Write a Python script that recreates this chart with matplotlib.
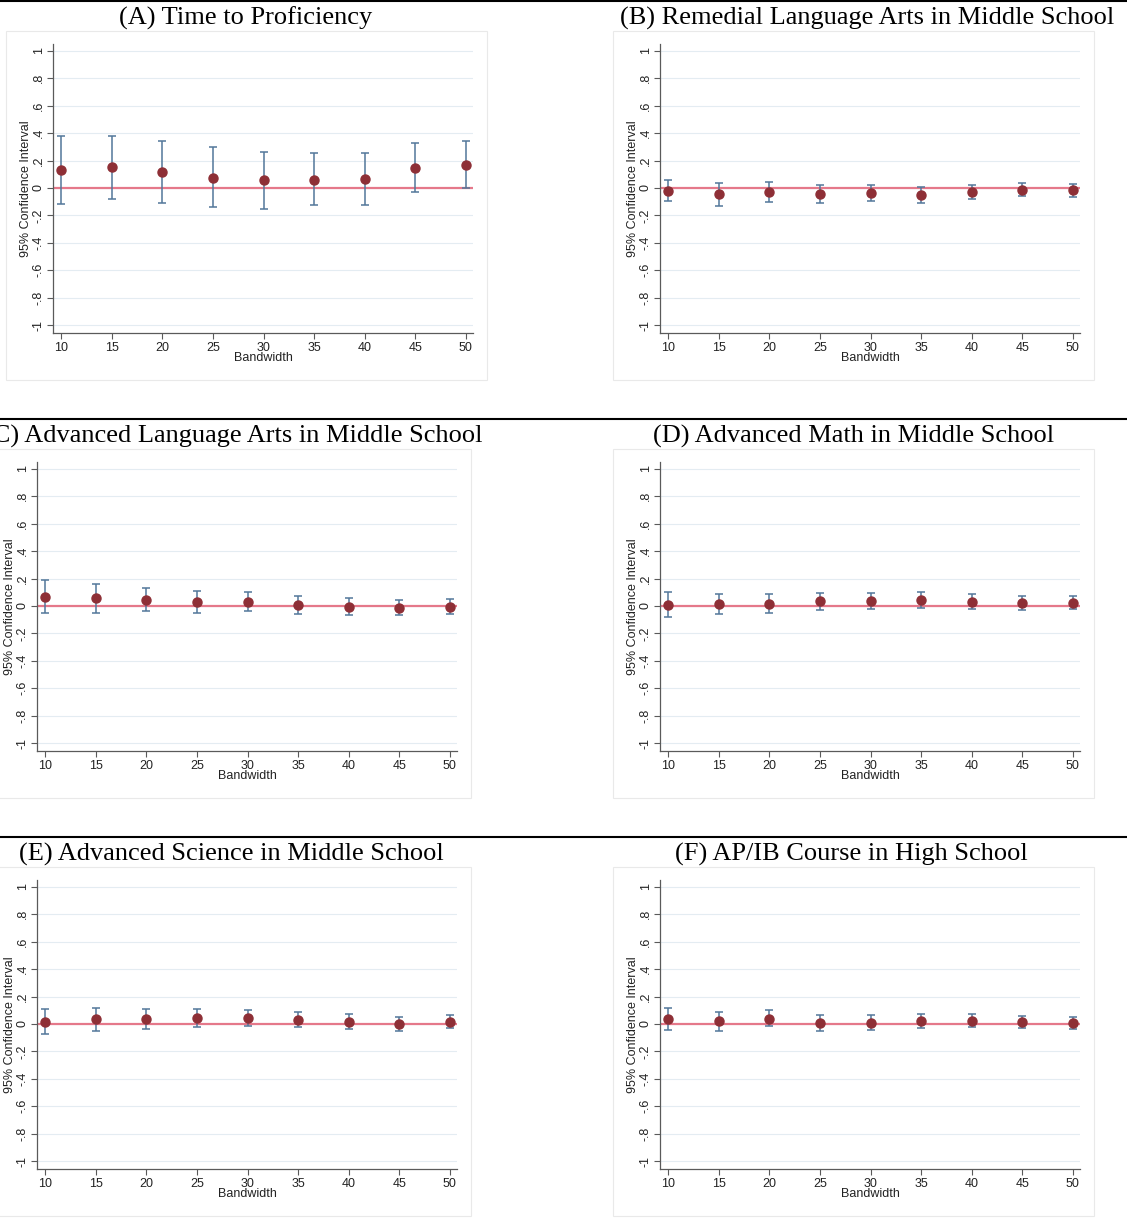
import matplotlib
matplotlib.use('Agg')
import matplotlib.pyplot as plt
from matplotlib.patches import Rectangle
from matplotlib.lines import Line2D

W = 1127  # picture size in px
H = 1218

bandwidth = [10, 15, 20, 25, 30, 35, 40, 45, 50]
ytick_vals = [-1, -0.8, -0.6, -0.4, -0.2, 0, 0.2, 0.4, 0.6, 0.8, 1]
ytick_labels = ['-1', '-.8', '-.6', '-.4', '-.2', '0', '.2', '.4', '.6', '.8', '1']

titles = ['(A) Time to Proficiency',
          '(B) Remedial Language Arts in Middle School',
          '(C) Advanced Language Arts in Middle School',
          '(D) Advanced Math in Middle School',
          '(E) Advanced Science in Middle School',
          '(F) AP/IB Course in High School']

# point estimates and 95% bounds
a_est = [0.129, 0.150, 0.114, 0.075, 0.056, 0.061, 0.063, 0.143, 0.167]
a_lo = [-0.117, -0.080, -0.112, -0.138, -0.150, -0.124, -0.121, -0.032, -0.003]
a_hi = [0.381, 0.381, 0.345, 0.296, 0.262, 0.252, 0.252, 0.325, 0.340]

b_est = [-0.019, -0.046, -0.032, -0.041, -0.036, -0.053, -0.032, -0.012, -0.017]
b_lo = [-0.097, -0.129, -0.102, -0.107, -0.097, -0.109, -0.083, -0.061, -0.066]
b_hi = [0.058, 0.036, 0.041, 0.024, 0.024, 0.005, 0.024, 0.039, 0.032]

c_est = [0.068, 0.056, 0.046, 0.027, 0.029, 0.010, -0.005, -0.012, -0.007]
c_lo = [-0.051, -0.049, -0.039, -0.049, -0.039, -0.056, -0.063, -0.068, -0.058]
c_hi = [0.189, 0.163, 0.133, 0.107, 0.102, 0.073, 0.058, 0.046, 0.049]

d_est = [0.010, 0.012, 0.015, 0.034, 0.037, 0.044, 0.032, 0.020, 0.022]
d_lo = [-0.083, -0.061, -0.054, -0.029, -0.024, -0.012, -0.020, -0.029, -0.024]
d_hi = [0.100, 0.088, 0.088, 0.098, 0.098, 0.100, 0.088, 0.073, 0.076]

e_est = [0.015, 0.034, 0.039, 0.041, 0.041, 0.029, 0.017, 0.000, 0.017]
e_lo = [-0.075, -0.049, -0.034, -0.022, -0.017, -0.024, -0.034, -0.049, -0.032]
e_hi = [0.109, 0.119, 0.112, 0.107, 0.102, 0.087, 0.070, 0.051, 0.066]

f_est = [0.036, 0.019, 0.039, 0.007, 0.007, 0.019, 0.022, 0.015, 0.007]
f_lo = [-0.044, -0.051, -0.015, -0.053, -0.046, -0.027, -0.022, -0.032, -0.036]
f_hi = [0.119, 0.087, 0.100, 0.066, 0.063, 0.075, 0.073, 0.061, 0.054]

panel_data = [(a_est, a_lo, a_hi), (b_est, b_lo, b_hi), (c_est, c_lo, c_hi),
              (d_est, d_lo, d_hi), (e_est, e_lo, e_hi), (f_est, f_lo, f_hi)]

# layout (px): left spine x, title x, title alignment
axis_left = [53, 660, 37, 660, 37, 660]
title_x = [246, 867, 483, 854, 231, 851]
title_ha = ['center', 'center', 'right', 'center', 'center', 'center']
ROW_STEP = 418
AX_TOP = 44
AX_W = 420
AX_H = 289

MARKER_C = '#8e2f36'
BAR_C = '#52779a'
ZERO_C = '#e5788a'
GRID_C = '#e4ecf2'
AXIS_C = '#5a5a5a'

plt.rcParams['font.family'] = ['Liberation Sans', 'DejaVu Sans']


def fx(x):
    return x / W


def fy(y):
    return 1 - y / H


def draw_panel(fig, i):
    row = i // 2
    left = axis_left[i]
    top = AX_TOP + row * ROW_STEP
    # faint frame of the stata graph region (behind the axes)
    fig.patches.append(Rectangle((fx(left - 47), fy(top + 336)), 481 / W, 349 / H,
                                 transform=fig.transFigure, facecolor='white',
                                 edgecolor='#e9e9e9', linewidth=0.8, zorder=-1))
    ax = fig.add_axes([fx(left), fy(top + AX_H), AX_W / W, AX_H / H])
    ax.set_xlim(9.2, 50.7)
    ax.set_ylim(-1.058, 1.05)
    ax.set_xticks(bandwidth)
    ax.set_yticks(ytick_vals)
    ax.set_yticklabels(ytick_labels, rotation=90, va='center')
    ax.tick_params(direction='out', length=4, width=0.8, color=AXIS_C,
                   labelsize=9, labelcolor='#222222')
    ax.tick_params(axis='x', pad=2.5)
    ax.tick_params(axis='y', pad=2)
    for s in ['top', 'right']:
        ax.spines[s].set_visible(False)
    for s in ['left', 'bottom']:
        ax.spines[s].set_color(AXIS_C)
        ax.spines[s].set_linewidth(0.9)
    ax.grid(axis='y', color=GRID_C, linewidth=0.8)
    ax.set_axisbelow(True)
    ax.axhline(0, color=ZERO_C, linewidth=1.6, zorder=2)

    est, lo, hi = panel_data[i]
    err_lo = [e - l for e, l in zip(est, lo)]
    err_hi = [h - e for e, h in zip(est, hi)]
    ax.errorbar(bandwidth, est, yerr=[err_lo, err_hi], fmt='o', color=MARKER_C,
                markersize=6.5, ecolor=BAR_C, elinewidth=1.1, capsize=2.8,
                capthick=1.1, zorder=3)

    ax.set_xlabel('Bandwidth', fontsize=9, color='#222222')
    ax.xaxis.set_label_coords(0.5, -(352 - 333) / AX_H)
    ax.set_ylabel('95% Confidence Interval', fontsize=9, color='#222222')
    ax.yaxis.set_label_coords(-21 / AX_W, 0.5)

    fig.text(fx(title_x[i]), fy(18 + row * ROW_STEP), titles[i], ha=title_ha[i],
             va='center', fontsize=19, family='Liberation Serif')


fig = plt.figure(figsize=(W / 100, H / 100), dpi=100)
fig.patch.set_facecolor('white')

# black rules above each row
for y in [1, 419, 837]:
    fig.lines.append(Line2D([0, 1], [fy(y), fy(y)], transform=fig.transFigure,
                            color='black', linewidth=1.5))

for i in range(6):
    draw_panel(fig, i)

fig.savefig('out.png', dpi=100)
